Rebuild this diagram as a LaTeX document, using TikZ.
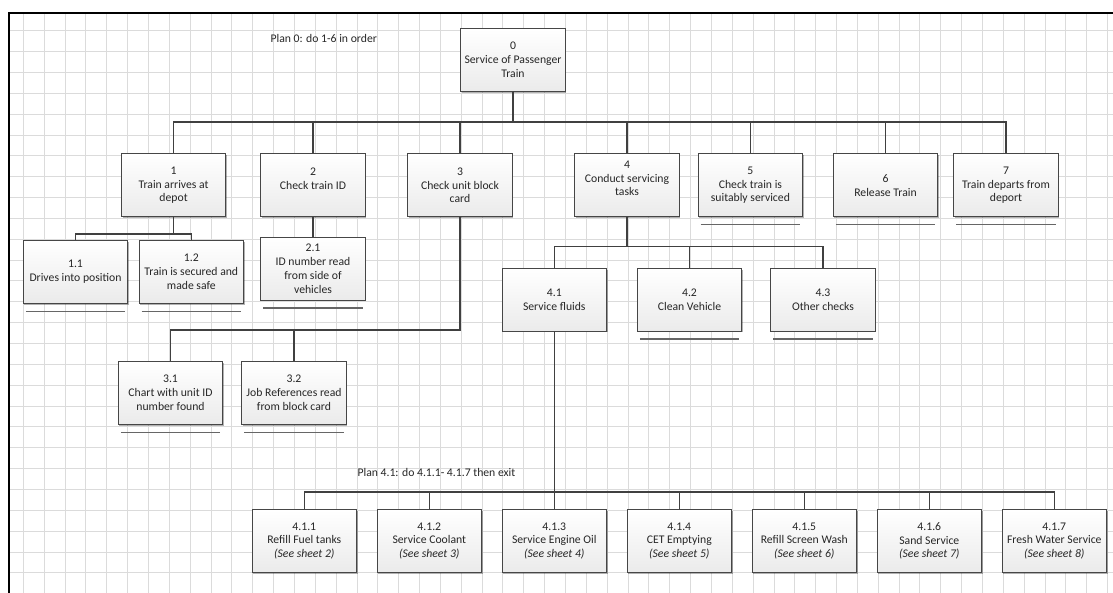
\documentclass[tikz,border=0pt]{standalone}
\usepackage{fontspec}
\setmainfont{Carlito}
\usepackage{tikz}
\usetikzlibrary{shadows}
\newcommand{\boxfont}{\fontsize{11.7}{13.8}\selectfont}
\newcommand{\sheet}[1]{\textit{(See sheet #1)}}

\begin{document}
\begin{tikzpicture}[x=1pt, y=-1pt,
    task/.style={draw=gray!55!black, line width=0.9pt, top color=white, bottom color=gray!16,
        minimum width=104.5pt, minimum height=62.7pt, inner sep=1pt, align=center,
        font=\boxfont, text=black!85,
        drop shadow={shadow xshift=1.2pt, shadow yshift=-1.2pt, opacity=0.3, fill=black}},
    conn/.style={draw=black!75, line width=1.5pt},
    endline/.style={draw=black!60, line width=1.5pt},
    gridline/.style={draw=black!14, line width=0.8pt},
    plan/.style={font=\boxfont, text=black!85, anchor=west},
]
\useasboundingbox (0,0) rectangle (1113,593);

% sheet grid and frame
\foreach \i in {0,...,52} \draw[gridline] ({23.3+\i*20.85},12.7) -- ({23.3+\i*20.85},593);
\foreach \j in {0,...,26} \draw[gridline] (9.3,{30.7+\j*20.85}) -- (1113,{30.7+\j*20.85});
\draw[line width=2pt] (9.3,593) -- (9.3,12.7) -- (1113,12.7);

% bus levels
\coordinate (bus0) at (0,122);
\coordinate (bus1) at (0,234);
\coordinate (bus3) at (0,330);
\coordinate (bus4) at (0,246.7);
\coordinate (bus41) at (0,492);

% top task
\node[task] (n0) at (513,60) {0\\Service of Passenger\\Train};
\node[plan] (plan0) at (267,38) {Plan 0: do 1-6 in order};

% level 1
\node[task] (n1) at (173.6,185.3) {1\\Train arrives at\\depot};
\node[task] (n2) at (313,185.3) {2\\Check train ID\\~};
\node[task] (n3) at (460,185.3) {3\\Check unit block\\card};
\node[task] (n4) at (627,185.3) {4\\Conduct servicing\\tasks\\~};
\node[task] (n5) at (750.4,185.3) {5\\Check train is\\suitably serviced};
\node[task] (n6) at (885.5,185.3) {6\\Release Train};
\node[task] (n7) at (1006,185.3) {7\\Train departs from\\deport};

% level 2
\node[task] (n11) at (75.5,272) {1.1\\Drives into position};
\node[task] (n12) at (191.3,272) {1.2\\Train is secured and\\made safe};
\node[task] (n21) at (313,268.7) {2.1\\ID number read\\from side of\\vehicles};
\node[task] (n31) at (170.5,393) {3.1\\Chart with unit ID\\number found};
\node[task] (n32) at (294,393) {3.2\\Job References read\\from block card};
\node[task] (n41) at (554.3,299.7) {4.1\\Service fluids};
\node[task] (n42) at (689.5,299.7) {4.2\\Clean Vehicle};
\node[task] (n43) at (823,299.7) {4.3\\Other checks};

% level 3 (Plan 4.1)
\node[plan] (plan41) at (354,472) {Plan 4.1: do 4.1.1- 4.1.7 then exit};
\node[task] (n411) at (304.3,541) {4.1.1\\Refill Fuel tanks\\\sheet{2}};
\node[task] (n412) at (429.3,541) {4.1.2\\Service Coolant\\\sheet{3}};
\node[task] (n413) at (554.3,541) {4.1.3\\Service Engine Oil\\\sheet{4}};
\node[task] (n414) at (679.3,541) {4.1.4\\CET Emptying\\\sheet{5}};
\node[task] (n415) at (804.3,541) {4.1.5\\Refill Screen Wash\\\sheet{6}};
\node[task] (n416) at (929.3,541) {4.1.6\\Sand Service\\\sheet{7}};
\node[task] (n417) at (1054.3,541) {4.1.7\\Fresh Water Service\\\sheet{8}};

% connectors
\foreach \c in {n1,n2,n3,n4,n5,n6,n7}
    \draw[conn] (n0.south) |- (bus0 -| \c.north) -- (\c.north);
\foreach \c in {n11,n12}
    \draw[conn] (n1.south) |- (bus1 -| \c.north) -- (\c.north);
\draw[conn] (n2.south) -- (n21.north);
\foreach \c in {n31,n32}
    \draw[conn] (n3.south) |- (bus3 -| \c.north) -- (\c.north);
\foreach \c in {n41,n42,n43}
    \draw[conn] (n4.south) |- (bus4 -| \c.north) -- (\c.north);
\foreach \c in {n411,n412,n413,n414,n415,n416,n417}
    \draw[conn] (n41.south) |- (bus41 -| \c.north) -- (\c.north);

% no further breakdown
\foreach \b in {n11,n12,n21,n31,n32,n42,n43,n5,n6,n7}
    \draw[endline] ([shift={(3,7.5)}]\b.south west) -- ([shift={(-3,7.5)}]\b.south east);
\end{tikzpicture}
\end{document}
